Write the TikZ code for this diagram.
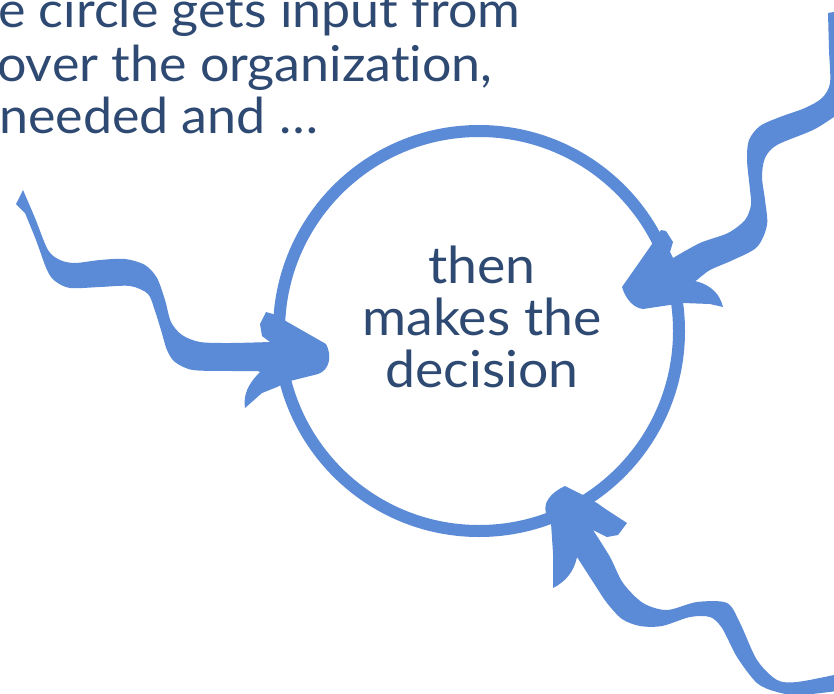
\documentclass[tikz,border=0pt]{standalone}
\usepackage{fontspec}
\setmainfont{Lato}[Ligatures={NoCommon},FakeStretch=1.05]
\definecolor{arrowblue}{HTML}{5B8BD6}
\definecolor{textblue}{HTML}{2E4A72}
\begin{document}
\begin{tikzpicture}[x=1pt,y=-1pt,
  bigtext/.style={text=textblue,font=\fontsize{51}{52}\selectfont,inner sep=0pt},
  toptext/.style={text=textblue,font=\fontsize{49.5}{52}\selectfont,inner sep=0pt,anchor=base west},
  brush/.style={fill=arrowblue,draw=none}]
\useasboundingbox (0,0) rectangle (834,693);
\clip (0,0) rectangle (834,693);
\fill[white] (0,0) rectangle (834,693);
% circle
\node[circle,draw=arrowblue,line width=12pt,minimum size=400pt,inner sep=0pt] (c) at (479,331) {};
% texts
\node[bigtext,anchor=center,align=center] (dec) at (482,317) {then\\makes the\\decision};
\node[toptext] (t1) at (-2,28) {e circle gets input from};
\node[toptext] (t2) at (-3,81) {over the organization,};
\node[toptext] (t3) at (-1,133) {needed and \dots};
% left arrow
\fill[brush] plot[smooth,tension=0.5] coordinates {(23,190) (35,218) (48,250) (60,260) (75,263) (100,260) (125,259) (145,265) (157,278) (165,300) (171,322) (182,335) (200,342) (230,343) (270,342)}
  -- (262,336) -- (260,324) -- (266,312) -- (273,314) -- (284,320) -- (326,344)
  .. controls (332,355) and (330,370) .. (318,374)
  -- (290,381) -- (277,387) -- (262,393) -- (245,408)
  .. controls (243,395) and (248,384) .. (260,372)
  -- plot[smooth,tension=0.5] coordinates {(258,371) (233,371) (193,370) (175,362) (167,350) (161,330) (155,311) (148,294) (130,286) (100,287) (70,288) (55,281) (47,270) (36,240) (25,213)}
  -- (16,204) -- cycle;
% top-right arrow
\fill[brush] plot[smooth,tension=0.5] coordinates {(828,13) (829,50) (830,83) (822,98) (805,108) (780,117) (760,126) (749,140) (747,160) (750,190) (751,205) (745,220) (728,233) (700,243) (673,258)}
  -- (670,252) -- (673,242) -- (666,231) -- (661,230) -- (650,247) -- (622,287)
  .. controls (626,300) and (634,308) .. (643,309)
  -- (683,303) -- (710,304) -- (723,307)
  .. controls (720,295) and (712,285) .. (695,281)
  -- plot[smooth,tension=0.5] coordinates {(697,280) (710,270) (733,260) (757,247) (767,225) (765,200) (762,177) (765,158) (777,145) (813,130) (834,117) (845,110)}
  -- (845,10) -- cycle;
% bottom-right arrow
\fill[brush] (565,486) .. controls (550,493) and (543,503) .. (546,513) -- (551,523)
  -- (553,553) -- (553,588)
  .. controls (565,582) and (574,572) .. (577,557)
  -- plot[smooth,tension=0.5] coordinates {(577,557) (595,585) (607,603) (622,619) (640,626) (662,626) (690,617) (710,617) (722,628) (737,657) (757,683) (777,692) (800,695) (845,690)}
  -- (845,672)
  -- plot[smooth,tension=0.5] coordinates {(834,675) (797,682) (777,680) (757,660) (740,623) (727,603) (697,602) (667,610) (643,603) (623,583) (610,557) (593,530)}
  -- (607,537) -- (618,535) -- (627,523) -- (607,510) -- (597,503) -- (583,495) -- cycle;
\end{tikzpicture}
\end{document}
